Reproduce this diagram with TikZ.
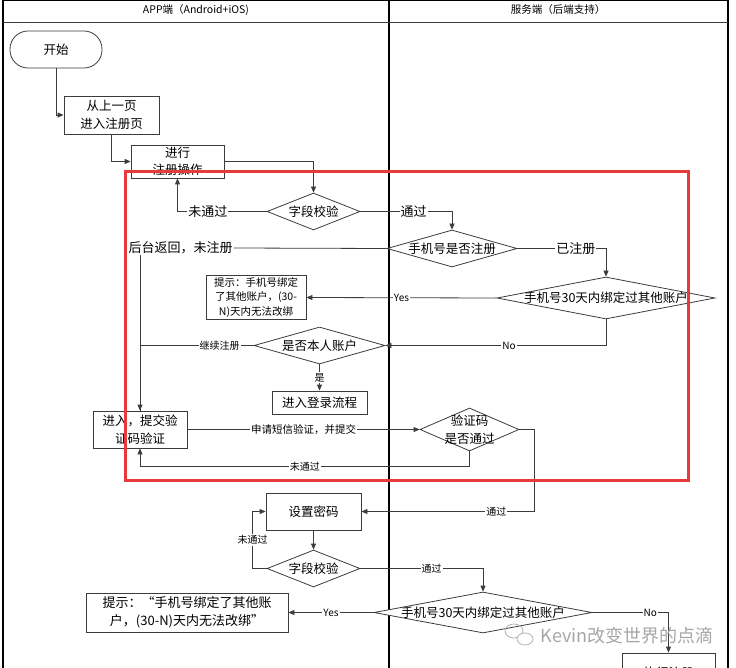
\documentclass[tikz,border=0pt]{standalone}
\usepackage{fontspec}
\setmainfont{Noto Sans CJK SC}
\usepackage{xcolor}
\usetikzlibrary{shapes.geometric, arrows.meta, positioning}
\definecolor{focusred}{RGB}{232,58,58}
\definecolor{edgegray}{RGB}{60,60,60}
\begin{document}
\begin{tikzpicture}[
  x=1pt, y=-1pt,
  font=\fontsize{12.5}{17.5}\selectfont,
  lane/.style={draw=black, line width=1.2pt},
  box/.style={draw=edgegray, fill=white, inner sep=0pt, align=center, line width=0.8pt},
  terminal/.style={box, rounded corners=18pt, minimum width=92pt, minimum height=37pt},
  decision/.style={diamond, aspect=1, draw=edgegray, fill=white, inner sep=0pt, line width=0.8pt},
  lbl/.style={fill=white, inner sep=1pt, font=\fontsize{13}{15}\selectfont},
  slbl/.style={fill=white, inner sep=1pt, font=\fontsize{10}{12}\selectfont},
  arrow/.style={-{Triangle[length=6pt,width=5pt]}, draw=edgegray, line width=0.8pt},
  line/.style={draw=edgegray, line width=0.8pt},
  focus/.style={draw=focusred, line width=3pt},
]
\useasboundingbox (0,0) rectangle (736,668);
\clip (0,0) rectangle (736,668);

% Swim lanes
\draw[lane] (3,0.6) -- (728,0.6);
\draw[lane] (3,0) -- (3,668);
\draw[lane] (389,0) -- (389,668);
\draw[lane] (728,0) -- (728,668);
\draw[line] (3,22) -- (728,22);
\node[font=\fontsize{10.5}{12}\selectfont] (applane) at (196,10) {APP端（Android+iOS)};
\node[font=\fontsize{10.5}{12}\selectfont] (srvlane) at (558,10) {服务端（后端支持）};

% Registration steps
\node[terminal] (start) at (56,49.5) {开始};
\node[box, minimum width=95pt, minimum height=38pt] (prev) at (111.5,115) {从上一页\\进入注册页};
\node[box, minimum width=93pt, minimum height=33pt] (regop) at (177.5,161.5) {进行\\注册操作};
\node[decision, minimum width=93pt, minimum height=37pt, label={center:字段校验}] (check1) at (313.5,211.5) {};
\node[decision, minimum width=130pt, minimum height=37pt, label={center:手机号是否注册}] (reg) at (452,248.5) {};
\node[lbl] (backlbl) at (180.5,248) {后台返回，未注册};
\node[decision, minimum width=218pt, minimum height=42pt, label={center:手机号30天内绑定过其他账户}] (bind1) at (606,298) {};
\node[box, minimum width=100pt, minimum height=44pt, font=\fontsize{10.5}{14.5}\selectfont]
  (tip1) at (256,297.5) {提示：手机号绑定\\了其他账户，(30-\\N)天内无法改绑};
\node[decision, minimum width=131pt, minimum height=37pt, label={center:是否本人账户}] (self) at (319.5,345.5) {};
\node[box, minimum width=95pt, minimum height=23pt] (login) at (319.5,402.5) {进入登录流程};
\node[box, minimum width=94pt, minimum height=37pt] (sms) at (140,429.5) {进入，提交验\\证码验证};
\node[decision, minimum width=99pt, minimum height=43pt,
  label={[align=center, font=\fontsize{12.5}{18}\selectfont]center:验证码\\是否通过}] (code) at (469.5,429.5) {};

% Password steps
\node[box, minimum width=95pt, minimum height=37pt] (pwd) at (313.5,511.5) {设置密码};
\node[decision, minimum width=93pt, minimum height=37pt, label={center:字段校验}] (check2) at (313.5,568.5) {};
\node[decision, minimum width=218pt, minimum height=41pt, label={center:手机号30天内绑定过其他账户}] (bind2) at (483,612.5) {};
\node[box, minimum width=202pt, minimum height=39pt, font=\fontsize{13}{18}\selectfont]
  (tip2) at (187,612.5) {提示：“手机号绑定了其他账\\户，(30-N)天内无法改绑”};
\node[box, minimum width=93pt, minimum height=40pt] (doreg) at (668.5,673) {执行注册};

% Arrows
\draw[arrow] (start.south) |- (prev.west);
\draw[arrow] (prev.south) |- (regop.west);
\draw[arrow] (regop.east) -| (check1.north);
\draw[arrow] (check1.west) -| node[lbl, pos=0.33] {未通过} (regop.south);
\draw[arrow] (check1.east) -| node[lbl, pos=0.29] {通过} (reg.north);
\draw[line] (reg.west) -- (backlbl.east);
\draw[arrow] (backlbl.south -| sms.north) -- (sms.north);
\draw[arrow] (reg.east) -| node[lbl, pos=0.33] {已注册} (bind1.north);
\draw[arrow] (bind1.west) -- node[slbl] {Yes} (tip1.east);
\draw[arrow] (bind1.south) |- node[slbl, pos=0.72] {No} (self.east);
\draw[line] (self.west) -| node[slbl, pos=0.15] {继续注册} (sms.north);
\draw[arrow] (self.south) -- node[slbl] {是} (login.north);
\draw[arrow] (sms.east) -- node[slbl, font=\fontsize{10.5}{12}\selectfont] {申请短信验证，并提交} (code.west);
\draw[arrow] (code.south) -- ++(0,15) -| node[slbl, pos=0.25] {未通过} (sms.south);
\draw[arrow] (code.east) -- ++(15,0) |- node[slbl, pos=0.61] {通过} (pwd.east);
\draw[arrow] (pwd.south) -- (check2.north);
\draw[arrow] (check2.west) -- ++(-14,0) |- node[slbl, pos=0.25] {未通过} (pwd.west);
\draw[arrow] (check2.east) -| node[slbl, pos=0.29] {通过} (bind2.north);
\draw[arrow] (bind2.west) -- node[slbl] {Yes} (tip2.east);
\draw[arrow] (bind2.east) -| node[slbl, pos=0.38] {No} (doreg.north);

% Highlighted part
\draw[focus] (125,172) rectangle (688,480);

% Watermark
\draw[gray!60, line width=0.8pt] (514,631) ellipse (9pt and 7pt);
\draw[gray!60, line width=0.8pt, fill=white] (525,639) ellipse (8pt and 6pt);
\node[text=gray!70, font=\fontsize{18}{20}\selectfont, inner sep=0pt] (mark) at (627,636) {Kevin改变世界的点滴};
\end{tikzpicture}
\end{document}
